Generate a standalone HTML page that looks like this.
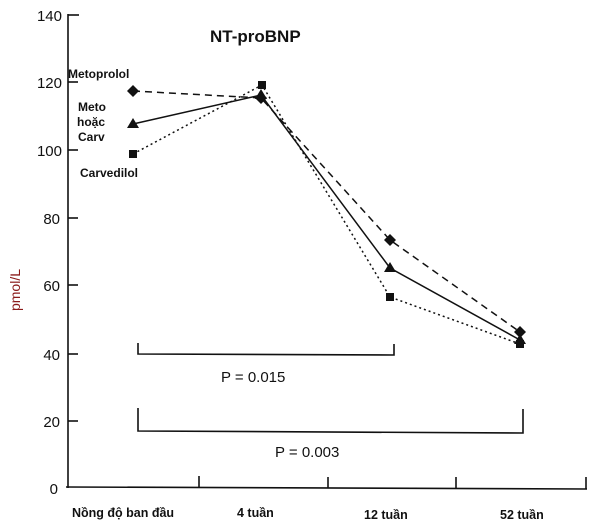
<!DOCTYPE html>
<html><head><meta charset="utf-8"><style>body{margin:0;background:#fff}svg{display:block}</style></head><body>
<svg width="600" height="527" viewBox="0 0 600 527" font-family="Liberation Sans, sans-serif">
<g stroke="#111" stroke-width="1.6" fill="none">
<line x1="68" y1="14" x2="68" y2="488"/>
<line x1="68" y1="15" x2="79" y2="15"/>
<line x1="68" y1="82" x2="78" y2="82"/>
<line x1="68" y1="150" x2="78" y2="150"/>
<line x1="68" y1="218" x2="78" y2="218"/>
<line x1="68" y1="285" x2="78" y2="285"/>
<line x1="68" y1="354" x2="78" y2="354"/>
<line x1="68" y1="421" x2="78" y2="421"/>
<line x1="66" y1="487" x2="587" y2="489"/>
<line x1="199" y1="476" x2="199" y2="487"/>
<line x1="328" y1="477" x2="328" y2="488"/>
<line x1="456" y1="477" x2="456" y2="488"/>
<line x1="586" y1="477" x2="586" y2="489"/>
<polyline points="138,343 138,354 394,355 394,344"/>
<polyline points="138,408 138,431 523,433 523,409"/>
</g>
<g stroke="#111" stroke-width="1.5" fill="none">
<polyline points="133,91 261,98 390,240 520,332" stroke-dasharray="7,5"/>
<polyline points="133,124 261,95 390,268 520,340"/>
<polyline points="133,154 262,85 390,297 520,344" stroke-dasharray="2,3"/>
</g>
<g fill="#111">
<polygon points="133,85 139,91 133,97 127,91"/><polygon points="261,92 267,98 261,104 255,98"/><polygon points="390,234 396,240 390,246 384,240"/><polygon points="520,326 526,332 520,338 514,332"/>
<polygon points="133,118 139,128 127,128"/><polygon points="261,89 267,99 255,99"/><polygon points="390,262 396,272 384,272"/><polygon points="520,334 526,344 514,344"/>
<rect x="129" y="150" width="8" height="8"/><rect x="258" y="81" width="8" height="8"/><rect x="386" y="293" width="8" height="8"/><rect x="516" y="340" width="8" height="8"/>
</g>
<g font-size="15" fill="#111" text-anchor="end">
<text x="62" y="21">140</text><text x="62" y="88">120</text><text x="62" y="156">100</text><text x="60" y="224">80</text><text x="60" y="291">60</text><text x="60" y="360">40</text><text x="60" y="427">20</text><text x="58" y="494">0</text>
</g>
<text transform="translate(20,290) rotate(-90)" font-size="14" fill="#8a1a1a" text-anchor="middle">pmol/L</text>
<text x="210" y="42" font-size="17" font-weight="bold" fill="#111">NT-proBNP</text>
<g font-size="12" font-weight="bold" fill="#111">
<text x="68" y="78">Metoprolol</text>
<text x="78" y="111">Meto</text><text x="77" y="126">hoặc</text><text x="78" y="141">Carv</text>
<text x="80" y="177">Carvedilol</text>
</g>
<g font-size="12.5" font-weight="bold" fill="#111">
<text x="72" y="517">Nồng độ ban đầu</text>
<text x="237" y="517">4 tuần</text>
<text x="364" y="519">12 tuần</text>
<text x="500" y="519">52 tuần</text>
</g>
<g font-size="15" fill="#111">
<text x="221" y="382">P = 0.015</text>
<text x="275" y="457">P = 0.003</text>
</g>
</svg>
</body></html>
